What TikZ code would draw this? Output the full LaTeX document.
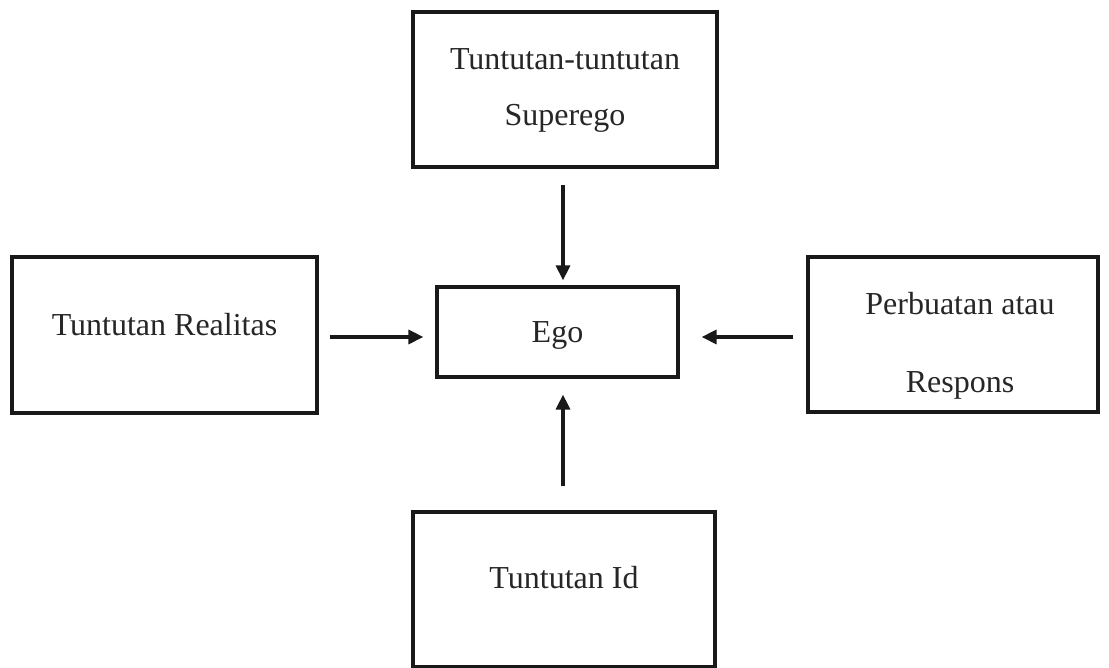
\documentclass[tikz,border=0pt]{standalone}
\usepackage{fontspec}
\setmainfont{Liberation Serif}
\usetikzlibrary{arrows.meta,calc}
\begin{document}
\begin{tikzpicture}[x=1pt,y=1pt,
  box/.style={draw=black!90,line width=3.2pt,inner sep=0pt},
  lbl/.style={font=\fontsize{32}{56}\selectfont,align=center,text=black!85},
  arr/.style={draw=black!90,line width=3.2pt,-{Triangle[length=15pt,width=14pt]}}]
\useasboundingbox[fill=white] (0,0) rectangle (1109,668);
% boxes
\node[box,minimum width=304pt,minimum height=155pt] (top) at (565,578.5) {};
\node[lbl] (topt) at (565,578) {Tuntutan-tuntutan\\Superego};
\node[box,minimum width=241pt,minimum height=90pt] (ego) at (557.5,336) {};
\node[lbl] (egot) at (557.5,333) {Ego};
\node[box,minimum width=305pt,minimum height=156pt] (left) at (164.5,333) {};
\node[lbl] (leftt) at (164.5,343) {Tuntutan Realitas};
\node[box,minimum width=290pt,minimum height=155pt] (right) at (953,333.5) {};
\node[lbl,font=\fontsize{32}{78}\selectfont] (rightt) at (960,322) {Perbuatan atau\\Respons};
\node[box,minimum width=302pt,minimum height=155pt] (bot) at (564,78.5) {};
\node[lbl] (bott) at (564,90) {Tuntutan Id};
% arrows
\draw[arr] ($(top.south)+(-2,-16)$) -- ($(top.south |- ego.north)+(-2,5)$);
\draw[arr] ($(bot.north)+(-1,24)$) -- ($(bot.north |- ego.south)+(-1,-16)$);
\draw[arr] ($(left.east |- 0,331)+(11,0)$) -- ($(ego.west |- 0,331)+(-12,0)$);
\draw[arr] ($(right.west |- 0,331)+(-13,0)$) -- ($(ego.east |- 0,331)+(22,0)$);
\end{tikzpicture}
\end{document}
